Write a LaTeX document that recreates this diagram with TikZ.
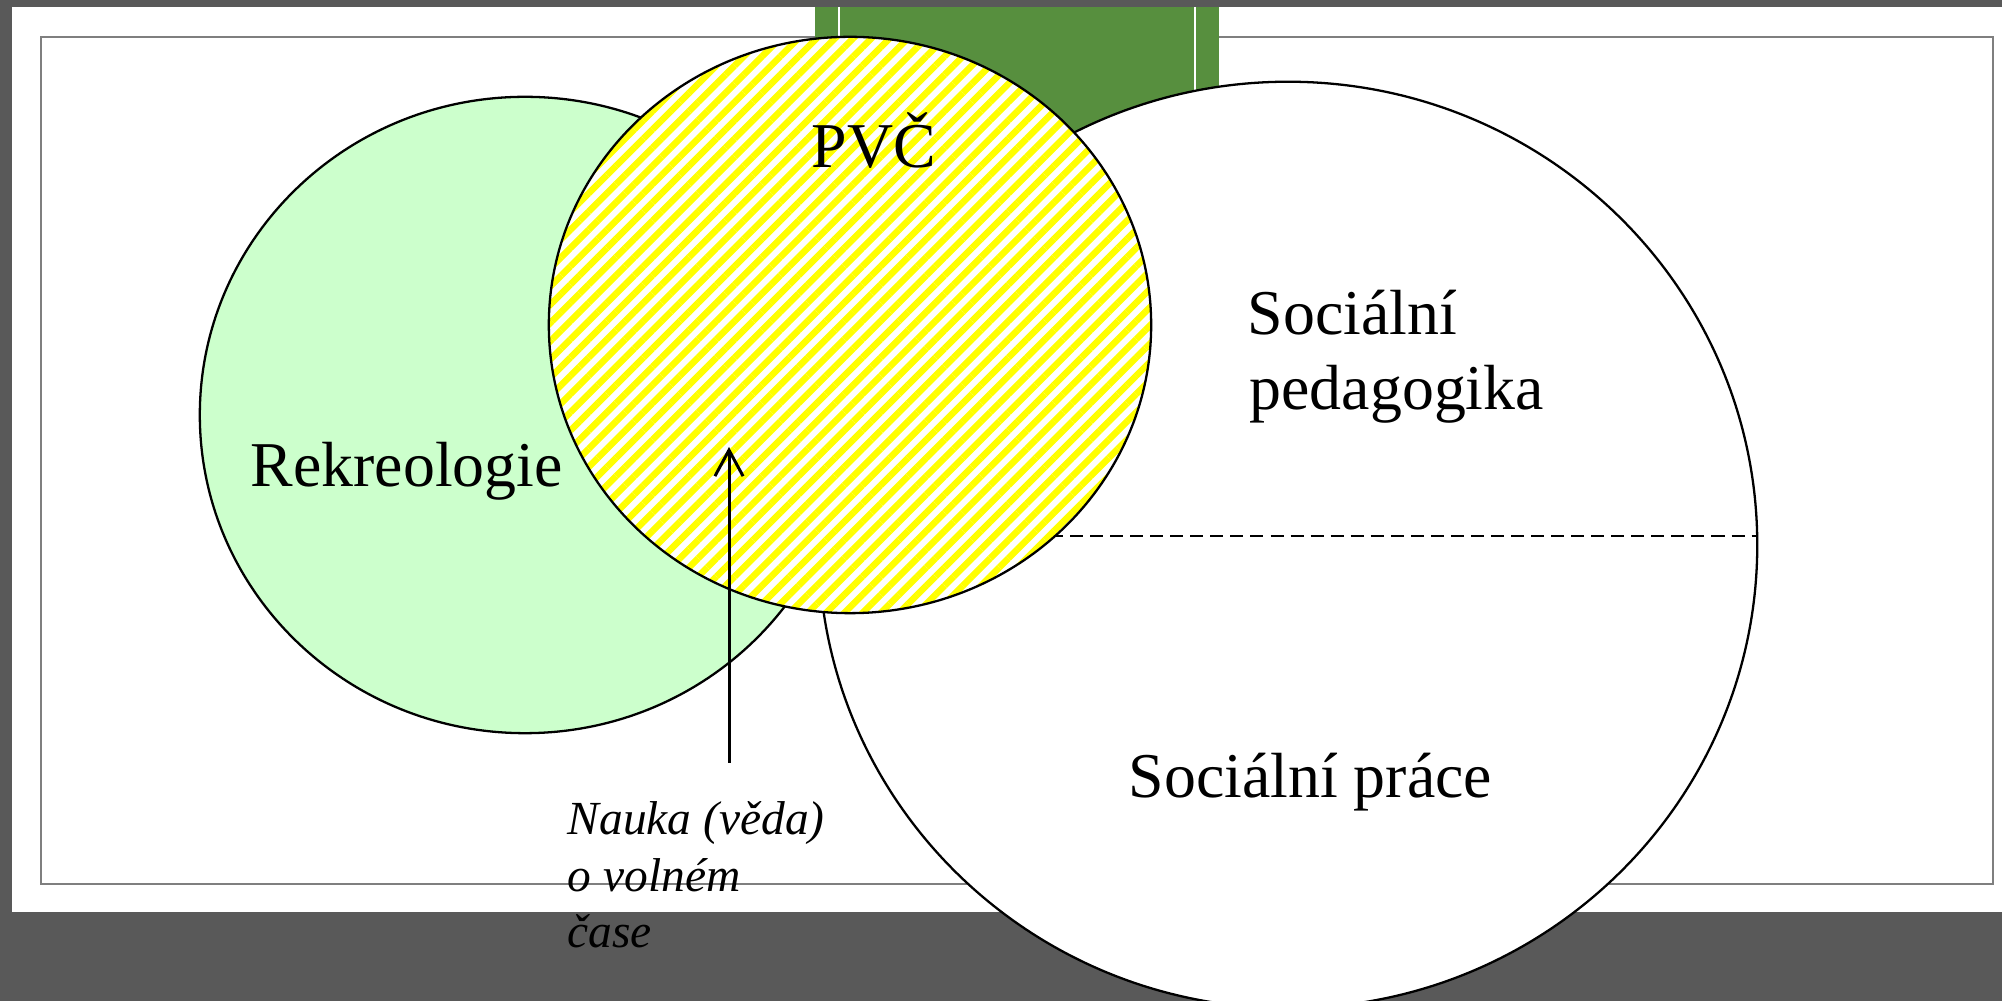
\documentclass[tikz,border=0pt]{standalone}
\usepackage{fontspec}
\setmainfont{Liberation Serif}
\usetikzlibrary{shapes.geometric,patterns.meta,arrows.meta}
\definecolor{slidegray}{HTML}{595959}
\definecolor{bargreen}{HTML}{578F3E}
\definecolor{recgreen}{HTML}{CCFFCC}
\definecolor{framegray}{HTML}{7F7F7F}
\begin{document}
\begin{tikzpicture}[x=0.01cm,y=-0.01cm,
  blob/.style={ellipse, draw=black, line width=0.65pt, inner sep=0pt},
  lbl/.style={anchor=base west, inner sep=0pt, font=\fontsize{18.15pt}{21.3pt}\selectfont},
  note/.style={anchor=base west, inner sep=0pt, font=\fontsize{13.5pt}{16pt}\selectfont\itshape}]
\useasboundingbox (0,0) rectangle (2002,1001);
% slide background
\fill[slidegray] (0,0) rectangle (2002,1001);
\fill[white] (11.5,7) rectangle (2002,912);
\draw[framegray, line width=0.45pt] (41,37) rectangle (1993,884);
% green bar
\fill[bargreen] (815,7) rectangle (1219,500);
\draw[white, line width=0.3pt] (839,7) -- (839,500) (1195,7) -- (1195,500);
% big ellipse
\node[blob, fill=white, minimum width=9.38cm, minimum height=9.26cm] (soc) at (1288,545) {};
\coordinate (dashL) at (1050,536);
\coordinate (dashR) at (1757,536);
\draw[line width=0.6pt, dash pattern=on 3.7pt off 2pt] (dashL) -- (dashR);
% Rekreologie
\node[blob, fill=recgreen, minimum width=6.5cm, minimum height=6.36cm] (rek) at (525,415) {};
% PVC
\node[blob, preaction={fill=white}, pattern={Lines[angle=45,distance=3.67pt,line width=1.85pt]}, pattern color=yellow, minimum width=6.02cm, minimum height=5.76cm] (pvc) at (850,325) {};
% labels
\node[lbl] (tpvc) at (811,168) {PVČ};
\node[lbl] (trek) at (250,487) {Rekreologie};
\node[lbl] (tsoc1) at (1247,335) {Sociální};
\node[lbl] (tsoc2) at (1249,410) {pedagogika};
\node[lbl] (tsocp) at (1128,798) {Sociální práce};
\node[note] (n1) at (567,835) {Nauka (věda)};
\node[note] (n2) at (567,892) {o volném};
\node[note] (n3) at (567,948) {čase};
% arrow
\coordinate (afoot) at (729,763);
\coordinate (atip) at (729,447);
\draw[line width=0.85pt, -{Straight Barb[length=7.4pt,width=8pt]}] (afoot) -- (atip);
\end{tikzpicture}
\end{document}
